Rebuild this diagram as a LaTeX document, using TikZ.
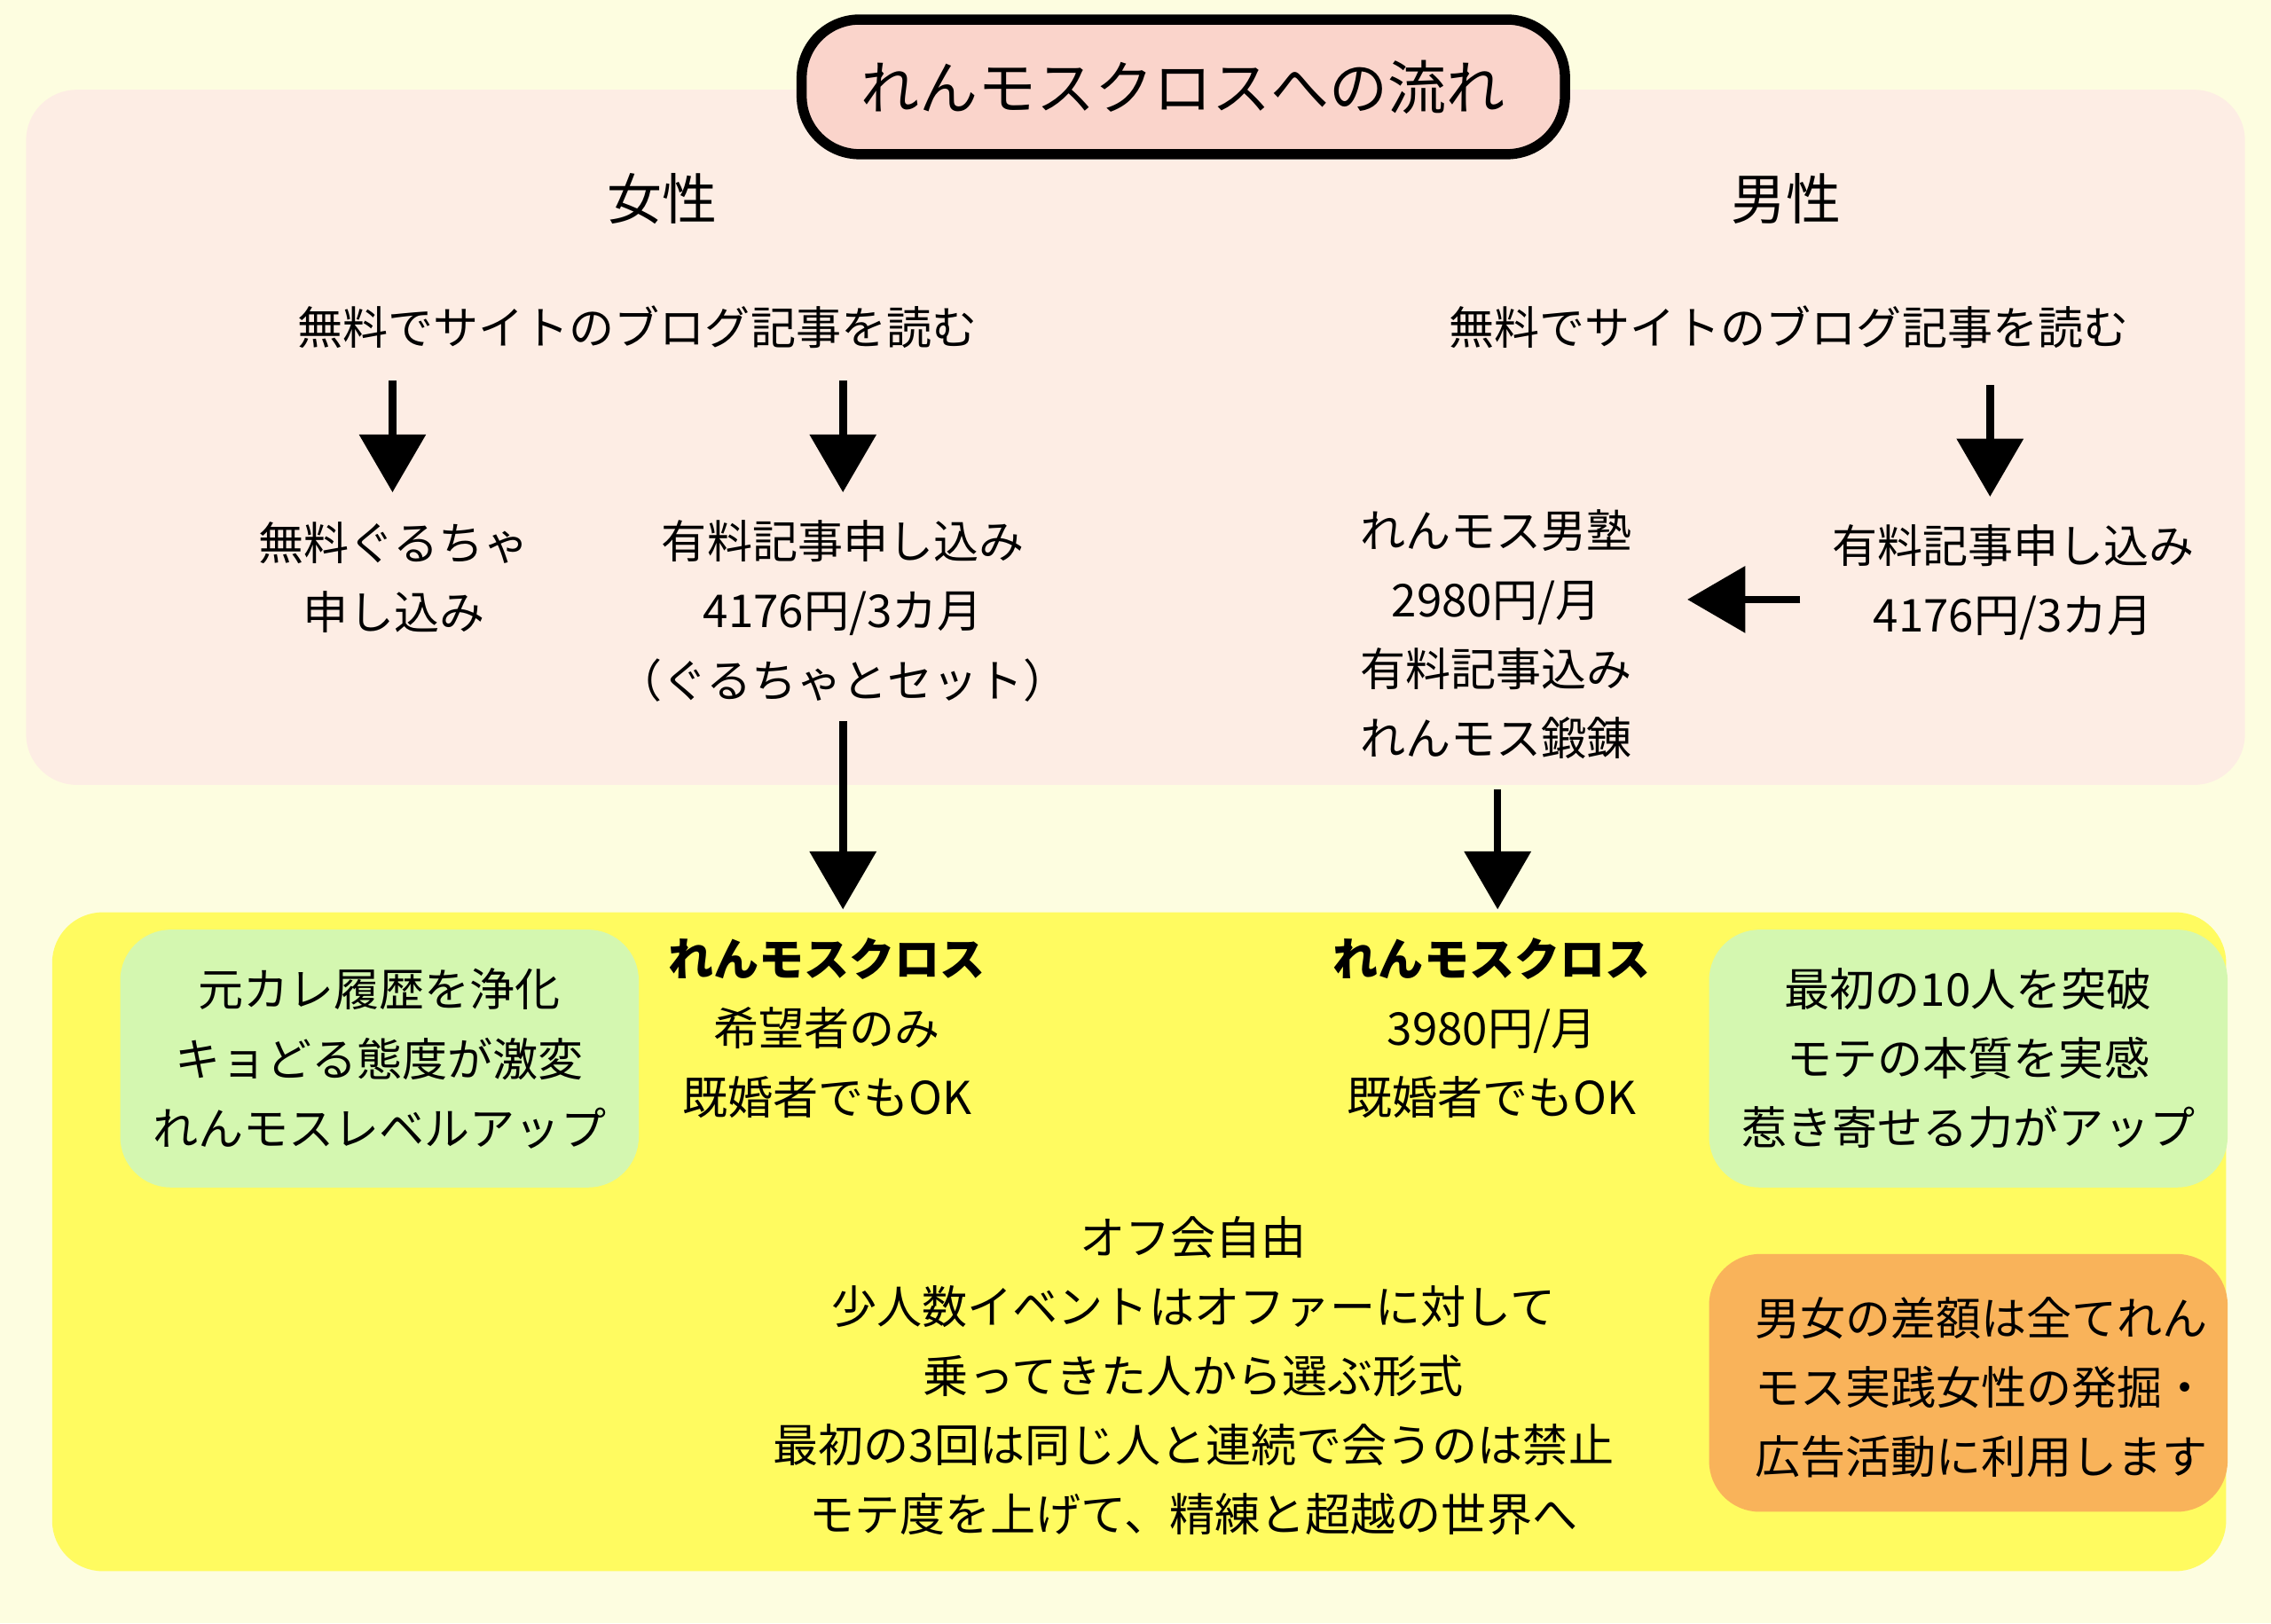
\documentclass[tikz,border=0pt]{standalone}
\usepackage{fontspec}
\setmainfont{Noto Sans CJK JP}
\usetikzlibrary{positioning, shapes, arrows.meta, calc}
\definecolor{bgyellow}{RGB}{253,253,224}
\definecolor{mypink}{RGB}{253,237,228}
\definecolor{titlepink}{RGB}{250,212,203}
\definecolor{myyellow}{RGB}{255,251,96}
\definecolor{mygreen}{RGB}{212,247,176}
\definecolor{myorange}{RGB}{249,179,90}
\tikzset{
  txt/.style={align=center, inner sep=0, font=\fontsize{8.9}{13.6}\selectfont},
  head/.style={inner sep=0, font=\fontsize{10.8}{13}\selectfont},
  panel/.style={draw=none, rounded corners=0.35cm},
  bigarrow/.style={-{Triangle[length=0.4cm,width=0.45cm]}, line width=1.5pt}
}
\begin{document}
\begin{tikzpicture}

\fill[bgyellow] (0,0) rectangle (15.68,-11.21);
\useasboundingbox (0,0) rectangle (15.68,-11.21);

\fill[panel, mypink] (0.18,-0.62) rectangle (15.50,-5.42);
\fill[panel, myyellow] (0.36,-6.30) rectangle (15.37,-10.85);
\fill[panel, mygreen] (0.83,-6.42) rectangle (4.41,-8.20);
\fill[panel, mygreen] (11.80,-6.42) rectangle (15.38,-8.20);
\fill[panel, myorange] (11.80,-8.66) rectangle (15.38,-10.44);

\node[draw, line width=2pt, fill=titlepink, rounded corners=0.4cm, minimum width=5.27cm,
  minimum height=0.93cm, font=\fontsize{11.5}{14}\selectfont] (title) at (8.17,-0.60) {れんモスクロスへの流れ};

\node[head] (woman) at (4.57,-1.37) {女性};
\node[head] (man) at (12.33,-1.37) {男性};

\node[txt] (readL) at (4.40,-2.26) {無料でサイトのブログ記事を読む};
\node[txt] (readR) at (12.35,-2.26) {無料でサイトのブログ記事を読む};

\node[txt] (guru) at (2.72,-3.99) {無料ぐるちゃ\\申し込み};
\node[txt] (paidL) at (5.82,-4.22) {有料記事申し込み\\4176円/3カ月\\（ぐるちゃとセット）};
\node[txt] (juku) at (10.33,-4.38) {れんモス男塾\\2980円/月\\有料記事込み\\れんモス鍛錬};
\node[txt] (paidR) at (13.90,-4.02) {有料記事申し込み\\4176円/3カ月};

\coordinate (a1s) at (2.71,-2.63);
\coordinate (a1e) at (2.71,-3.40);
\coordinate (a2s) at (5.82,-2.63);
\coordinate (a2e) at (5.82,-3.40);
\coordinate (a3s) at (13.74,-2.66);
\coordinate (a3e) at (13.74,-3.43);
\coordinate (a4s) at (12.43,-4.14);
\coordinate (a4e) at (11.65,-4.14);
\coordinate (a5s) at (5.82,-4.98);
\coordinate (a5e) at (5.82,-6.28);
\coordinate (a6s) at (10.34,-5.45);
\coordinate (a6e) at (10.34,-6.28);
\draw[bigarrow] (a1s) -- (a1e);
\draw[bigarrow] (a2s) -- (a2e);
\draw[bigarrow] (a3s) -- (a3e);
\draw[bigarrow] (a4s) -- (a4e);
\draw[bigarrow] (a5s) -- (a5e);
\draw[bigarrow] (a6s) -- (a6e);

\node[txt] (crossL) at (5.71,-7.10) {\textbf{れんモスクロス}\\希望者のみ\\既婚者でもOK};
\node[txt] (crossR) at (10.30,-7.10) {\textbf{れんモスクロス}\\3980円/月\\既婚者でもOK};

\node[txt] (effL) at (2.62,-7.31) {元カレ履歴を浄化\\キョどる態度が激変\\れんモスレベルアップ};
\node[txt] (effR) at (13.59,-7.31) {最初の10人を突破\\モテの本質を実感\\惹き寄せる力がアップ};

\node[txt] (rules) at (8.24,-9.50) {オフ会自由\\少人数イベントはオファーに対して\\乗ってきた人から選ぶ形式\\最初の3回は同じ人と連続で会うのは禁止\\モテ度を上げて、精練と超越の世界へ};

\node[txt, align=left] (diff) at (13.68,-9.58) {男女の差額は全てれん\\モス実践女性の発掘・\\広告活動に利用します};

\end{tikzpicture}
\end{document}
